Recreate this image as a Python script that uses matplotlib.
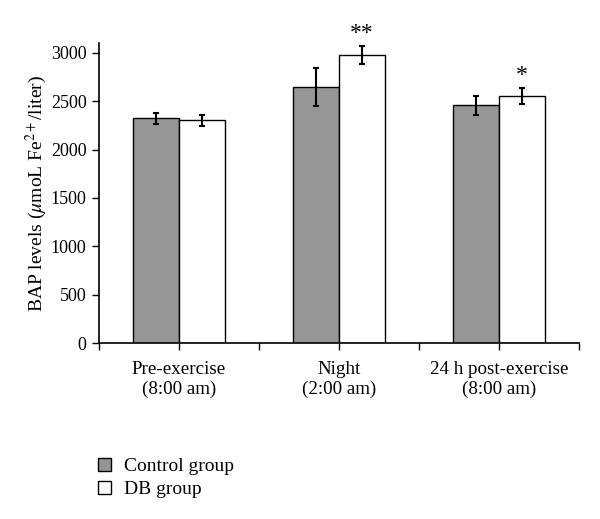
import matplotlib
matplotlib.use("Agg")
import matplotlib.pyplot as plt
import numpy as np
from matplotlib.patches import Patch

categories = ["Pre-exercise\n(8:00 am)", "Night\n(2:00 am)", "24 h post-exercise\n(8:00 am)"]
control = [2322, 2645, 2459]
control_err = [60, 200, 98]
db = [2301, 2975, 2555]
db_err = [60, 93, 80]
db_marks = ["", "**", "*"]
series_names = ["Control group", "DB group"]

plt.rcParams['font.family'] = ['Liberation Serif', 'DejaVu Serif']
plt.rcParams['mathtext.fontset'] = 'stix'

fig = plt.figure(figsize=(6.0, 5.19), dpi=100)
ax = fig.add_axes([99/600, 1-343.3/519, 480/600, 300.3/519])

x = np.arange(len(categories))
w = 0.2875
ax.bar(x - w/2, control, w, color="#969696", edgecolor="black", linewidth=1.0, zorder=2)
ax.bar(x + w/2, db, w, color="white", edgecolor="black", linewidth=1.0, zorder=2)
ax.errorbar(x - w/2, control, yerr=control_err, fmt="none", ecolor="black",
            elinewidth=1.5, capsize=2.5, capthick=1.5, zorder=3)
ax.errorbar(x + w/2, db, yerr=db_err, fmt="none", ecolor="black",
            elinewidth=1.5, capsize=2.5, capthick=1.5, zorder=3)

for xi, v, e, m in zip(x, db, db_err, db_marks):
    if m:
        ax.annotate(m, (xi + w/2, v + e), xytext=(0, 1.5), textcoords="offset points",
                    ha="center", va="bottom", fontsize=17, annotation_clip=False)

n = len(categories)
tick_pos = np.arange(-0.5, n, 0.5)
tick_labels = []
for t in tick_pos:
    if float(t).is_integer():
        tick_labels.append(categories[int(t)])
    else:
        tick_labels.append("")

ax.set_xlim(-0.5, n - 0.5)
ax.set_ylim(0, 3100)
ax.set_yticks(np.arange(0, 3001, 500))
ax.set_xticks(tick_pos)
ax.set_xticklabels(tick_labels, fontsize=13.7, linespacing=1.2)
ax.tick_params(axis="y", labelsize=13, length=5, width=1, direction="out", pad=4)
ax.tick_params(axis="x", length=5, width=1, direction="out", pad=8)
for s in ["top", "right"]:
    ax.spines[s].set_visible(False)
for s in ["left", "bottom"]:
    ax.spines[s].set_linewidth(1.2)

ax.set_ylabel(r"BAP levels ($\mu$moL Fe$^{2+}$/liter)", fontsize=14, labelpad=1)

handles = [Patch(facecolor="#969696", edgecolor="black", linewidth=1.0),
           Patch(facecolor="white", edgecolor="black", linewidth=1.0)]
fig.legend(handles, series_names, loc="upper left", bbox_to_anchor=(98/600, 1-458/519),
           frameon=False, fontsize=14, handlelength=0.65, handleheight=0.65,
           handletextpad=0.7, labelspacing=0.3, borderaxespad=0, borderpad=0)

fig.savefig("out.png", dpi=100)
